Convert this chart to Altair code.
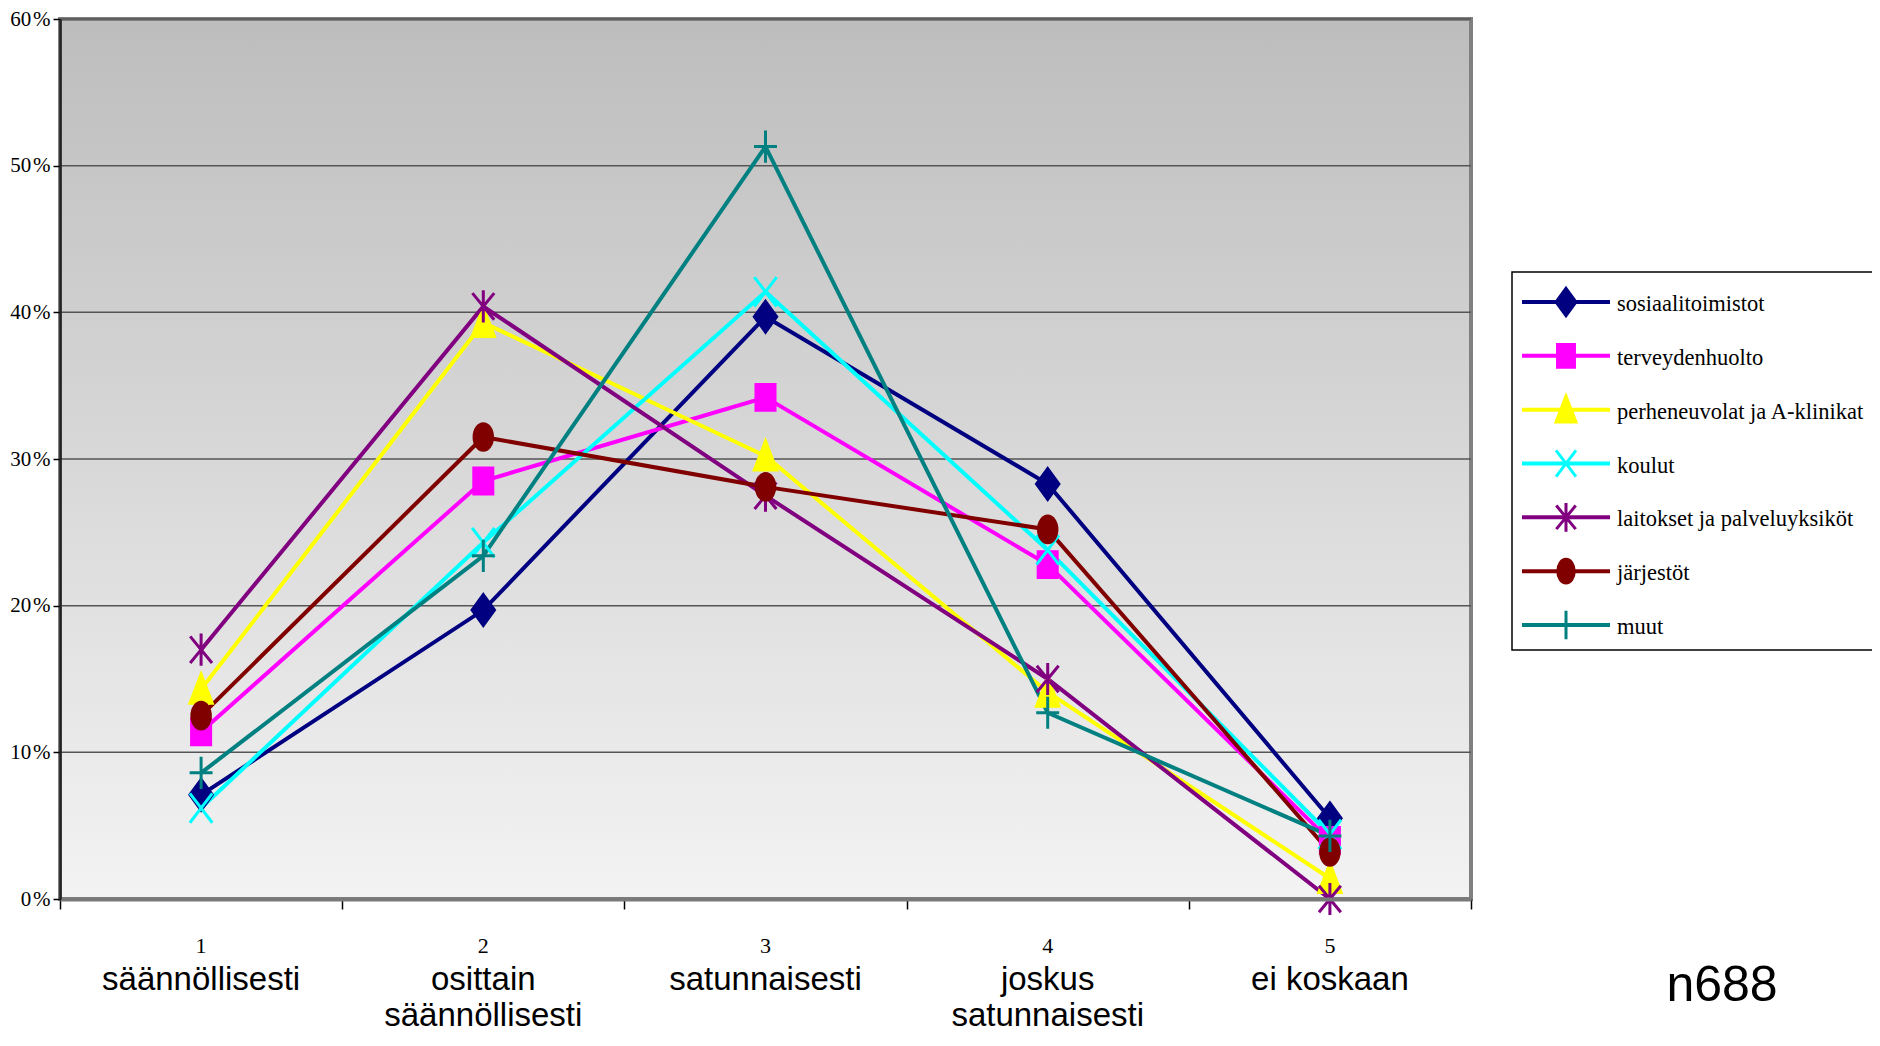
import altair as alt
import pandas as pd

# ---------------- data ----------------
categories = [1, 2, 3, 4, 5]
category_numbers = ["1", "2", "3", "4", "5"]
category_names = ["säännöllisesti", "osittain\nsäännöllisesti", "satunnaisesti",
                  "joskus\nsatunnaisesti", "ei koskaan"]

series = ["sosiaalitoimistot", "terveydenhuolto", "perheneuvolat ja A-klinikat",
          "koulut", "laitokset ja palveluyksiköt", "järjestöt", "muut"]

sosiaalitoimistot = [7.1, 19.7, 39.7, 28.3, 5.5]
terveydenhuolto = [11.4, 28.5, 34.2, 22.8, 4.0]
perheneuvolat = [14.3, 39.3, 30.2, 14.1, 1.4]
koulut = [6.2, 24.3, 41.4, 23.8, 4.4]
laitokset = [17.0, 40.4, 27.5, 15.0, 0.0]
jarjestot = [12.5, 31.5, 28.1, 25.2, 3.2]
muut = [8.6, 23.4, 51.3, 12.7, 4.3]
values = [sosiaalitoimistot, terveydenhuolto, perheneuvolat, koulut,
          laitokset, jarjestot, muut]

colors = ["#000080", "#FF00FF", "#FFFF00", "#00FFFF", "#800080", "#800000", "#008080"]
shapes = [
    "M0,-1.1L0.8,0L0,1.1L-0.8,0Z",                                   # diamond
    "M-0.68,-0.92L0.68,-0.92L0.68,0.92L-0.68,0.92Z",                  # square
    "M0,-1.08L0.8,1.0L-0.8,1.0Z",                                     # triangle
    "M-0.8,-1.05L0.8,1.05M0.8,-1.05L-0.8,1.05",                       # x
    "M-0.78,-0.95L0.78,0.95M0.78,-0.95L-0.78,0.95M0,-1.15L0,1.15",    # asterisk
    "M0,-0.95A0.66,0.95,0,1,1,0,0.95A0.66,0.95,0,1,1,0,-0.95Z",      # circle
    "M-0.82,0L0.82,0M0,-1.15L0,1.15",                                 # plus
]

y_ticks = [0, 10, 20, 30, 40, 50, 60]
x_ticks = [0.5, 1.5, 2.5, 3.5, 4.5, 5.5]
sample_note = ["n688"]

# ---------------- tables ----------------
rows = []
for s, vals in zip(series, values):
    for c, v in zip(categories, vals):
        rows.append({"series": s, "cat": c, "pct": v})
df = pd.DataFrame(rows)
cat_df = pd.DataFrame({"cat": categories, "num": category_numbers, "name": category_names})
grid_df = pd.DataFrame({"pct": y_ticks})
leg_df = pd.DataFrame({"series": series})
one = pd.DataFrame({"a": [0]})
note_df = pd.DataFrame({"note": sample_note})

W, H = 1411, 880

x_scale = alt.Scale(domain=[0.5, 5.5], nice=False, zero=False)
y_scale = alt.Scale(domain=[0, 60], nice=False)
x_axis = alt.Axis(values=x_ticks, labels=False, tickSize=10, tickColor="black", tickWidth=1.5,
                  domainColor="#7a7a7a", domainWidth=4, grid=False, title=None, zindex=1)
y_axis = alt.Axis(values=y_ticks, labelExpr="datum.value + '\u200a%'", labelFont="Liberation Serif",
                  labelFontSize=21, labelColor="black", tickSize=7, tickColor="black",
                  tickWidth=1.5, labelPadding=3, domainColor="#222222", domainWidth=2.5,
                  grid=False, title=None, zindex=1)
color_scale = alt.Scale(domain=series, range=colors)
shape_scale = alt.Scale(domain=series, range=shapes)

X = alt.X("cat:Q", scale=x_scale, axis=x_axis)
Y = alt.Y("pct:Q", scale=y_scale, axis=y_axis)

bg = alt.Chart(one).mark_rect(
    fill=alt.Gradient(gradient="linear", x1=0, x2=0, y1=0, y2=1,
                      stops=[alt.GradientStop(offset=0, color="#bdbdbd"),
                             alt.GradientStop(offset=1, color="#f3f3f3")]),
    stroke="#808080", strokeWidth=4
).encode(x=alt.value(0), x2=alt.value(W), y=alt.value(0), y2=alt.value(H))

grid = alt.Chart(grid_df).mark_rule(color="#555555", strokeWidth=1.5).encode(y=Y)

lines = alt.Chart(df).mark_line(strokeWidth=4).encode(
    x=X, y=Y,
    color=alt.Color("series:N", scale=color_scale, legend=None),
    order="cat:Q",
)

points = alt.Chart(df).mark_point(filled=True, size=784, strokeWidth=3, opacity=1).encode(
    x=X, y=Y,
    color=alt.Color("series:N", scale=color_scale, legend=None),
    stroke=alt.Stroke("series:N", scale=color_scale, legend=None),
    shape=alt.Shape("series:N", scale=shape_scale, legend=None),
)

num_labels = alt.Chart(cat_df).mark_text(
    font="Liberation Serif", fontSize=22, baseline="alphabetic", color="black"
).encode(x=X, y=alt.value(934), text="num:N")

name_labels = alt.Chart(cat_df).mark_text(
    font="Liberation Sans", fontSize=33, baseline="alphabetic", color="black",
    lineBreak="\n", lineHeight=36
).encode(x=X, y=alt.value(971), text="name:N")

note = alt.Chart(note_df).mark_text(
    font="Liberation Sans", fontSize=50, baseline="alphabetic", color="black"
).encode(x=alt.value(1662), y=alt.value(982), text="note:N")

main = alt.layer(bg, grid, lines, points, num_labels, name_labels, note)

# ---------------- legend ----------------
LY = alt.Y("series:N", scale=alt.Scale(type="point", domain=series, range=[283, 606], padding=0),
           axis=None)

box = alt.Chart(one).mark_rect(fill="white", stroke="black", strokeWidth=1.5).encode(
    x=alt.value(1452), x2=alt.value(1900), y=alt.value(253), y2=alt.value(631))

leg_lines = alt.Chart(leg_df).mark_rule(strokeWidth=4).encode(
    x=alt.value(1462), x2=alt.value(1550), y=LY,
    color=alt.Color("series:N", scale=color_scale, legend=None))

leg_points = alt.Chart(leg_df).mark_point(filled=True, size=620, strokeWidth=3, opacity=1).encode(
    x=alt.value(1506), y=LY,
    color=alt.Color("series:N", scale=color_scale, legend=None),
    stroke=alt.Stroke("series:N", scale=color_scale, legend=None),
    shape=alt.Shape("series:N", scale=shape_scale, legend=None))

leg_text = alt.Chart(leg_df).mark_text(
    align="left", baseline="middle", font="Liberation Serif", fontSize=22.5, color="black", dy=2
).encode(x=alt.value(1557), y=LY, text="series:N")

legend = alt.layer(box, leg_lines, leg_points, leg_text)

chart = alt.layer(main, legend).resolve_scale(y="independent").properties(
    width=W, height=H,
    padding={"left": 52, "top": 11, "right": 401, "bottom": 138},
    autosize=alt.AutoSizeParams(type="none"),
    background="white",
).configure_view(stroke=None)

chart.save("out.html", embed_options={"renderer": "svg", "actions": False})
